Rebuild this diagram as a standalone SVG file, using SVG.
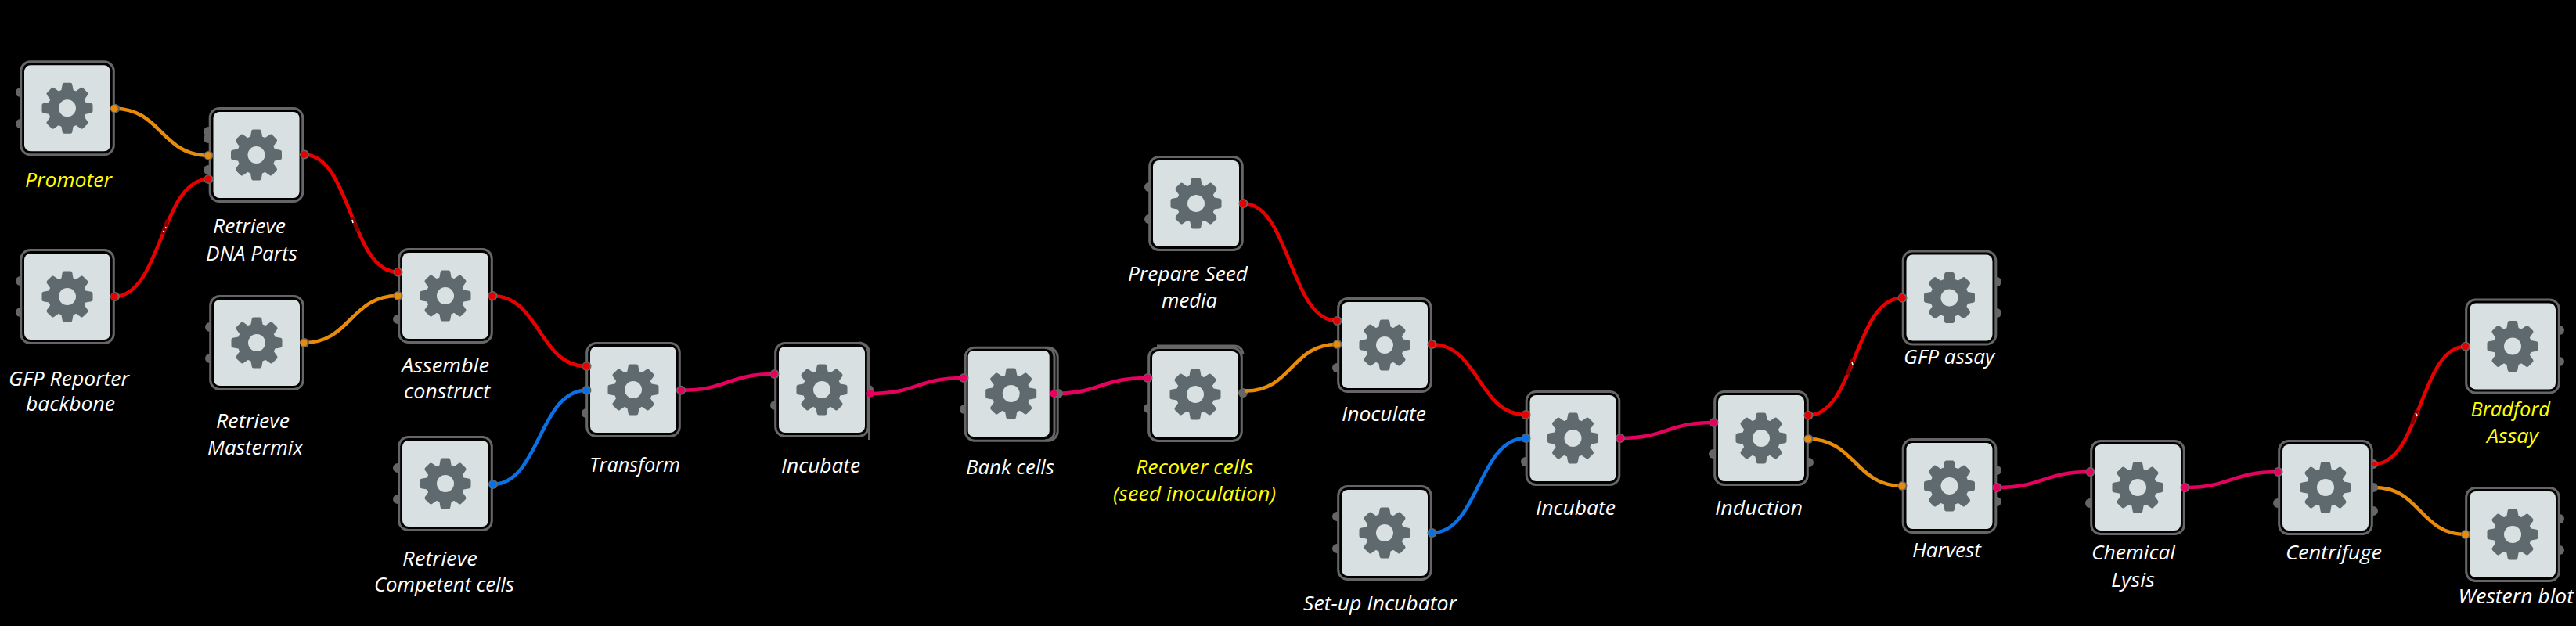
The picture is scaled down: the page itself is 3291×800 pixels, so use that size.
<svg xmlns="http://www.w3.org/2000/svg" width="3291" height="800" viewBox="0 0 3291 800">
<style>
.o{fill:#000;stroke:#666;stroke-width:3}
.i{fill:#d8e0e2}
.g{fill:#5f6a6e}
.h{fill:#d8e0e2}
.p{fill:#666}
.x{fill:none;stroke:#666;stroke-width:3}
.c{fill:none;stroke-width:4.6;stroke-linecap:butt}
.t{font-family:"Open Sans","Noto Sans","Liberation Sans",sans-serif;font-style:italic;font-size:25.5px;fill:#fff}
.y{fill:#ff0}
.cO{stroke:#e88a0a}.cR{stroke:#e60000}.cP{stroke:#e6005f}.cB{stroke:#0a70e6}
.dO{fill:#e88a0a}.dR{fill:#e60000}.dP{fill:#e6005f}.dB{fill:#0a70e6}
.k{stroke:#8a0000;stroke-width:4.6;fill:none}
.w{stroke:#fff;stroke-width:1.5;fill:none}
</style>
<defs>
<path id="tooth" class="g" d="M-8-21L-6.3-30.5Q-6-32.5-4-32.5H4Q6-32.5 6.3-30.5L8-21Z"/>
<g id="gear">
<circle class="g" r="24.5"/>
<use href="#tooth"/><use href="#tooth" transform="rotate(45)"/><use href="#tooth" transform="rotate(90)"/><use href="#tooth" transform="rotate(135)"/><use href="#tooth" transform="rotate(180)"/><use href="#tooth" transform="rotate(225)"/><use href="#tooth" transform="rotate(270)"/><use href="#tooth" transform="rotate(315)"/>
<circle class="h" r="11"/>
</g>
<g id="box">
<rect class="o" x="-59.3" y="-59.5" width="118.6" height="119" rx="12"/>
<rect class="i" x="-55" y="-55" width="110" height="110" rx="8"/>
<use href="#gear"/>
</g>
<circle id="nub" class="p" r="6"/>
<circle id="dot" r="4.6"/>
</defs>
<rect width="3291" height="800" fill="#000"/>
<g id="connectors">
<path class="c cO" d="M146 138.7C206 138.7 206 198.7 266 198.7"/>
<path class="c cR" d="M146 379C206 379 206 229 266 229"/>
<path class="c cR" d="M388.5 197.5C448 197.5 448 347.7 508 347.7"/>
<path class="c cO" d="M388 438C448 438 448 378 508 378"/>
<path class="c cR" d="M629 378C689 378 689 468 749 468"/>
<path class="c cB" d="M629.5 619C689 619 689 498.7 749 498.7"/>
<path class="c cP" d="M870 498.7C930 498.7 930 478 989 478"/>
<path class="c cP" d="M1112 503C1172 503 1172 483 1231 483"/>
<path class="c cP" d="M1346 503C1406 503 1406 483 1466 483"/>
<path class="c cR" d="M1588 260C1648 260 1648 410 1708 410"/>
<path class="c cO" d="M1592 499.5C1650 499.5 1650 440 1708 440"/>
<path class="c cR" d="M1829 440C1889 440 1889 530 1949 530"/>
<path class="c cB" d="M1829 681C1889 681 1889 560 1949 560"/>
<path class="c cP" d="M2070 560C2130 560 2130 540 2189 540"/>
<path class="c cR" d="M2310 530.7C2370 530.7 2370 380.7 2430 380.7"/>
<path class="c cO" d="M2310 561C2370 561 2370 621 2430 621"/>
<path class="c cP" d="M2551 623C2610 623 2610 603 2670 603"/>
<path class="c cP" d="M2791 623C2850 623 2850 603 2910 603"/>
<path class="c cR" d="M3033 593C3092 593 3092 442.7 3150 442.7"/>
<path class="c cO" d="M3034 623C3092 623 3092 683 3150 683"/>
<path class="k" d="M214 281L207.5 299"/><path class="w" d="M208 296L210 295M211 292L212 290"/>
<path class="k" d="M450 277L457 296"/><path class="w" d="M450 281L451 285"/>
<path class="k" d="M2367 459L2360 479"/><path class="w" d="M2366 463L2367 466"/>
<path class="k" d="M3088 524L3081 542"/><path class="w" d="M3086 528L3088 531"/>
</g>
<g id="n-promoter"><use href="#nub" x="26" y="118"/><use href="#nub" x="26" y="158"/><use href="#box" x="86" y="138.3"/><use href="#nub" x="147" y="138.7"/><use href="#dot" class="dO" x="146" y="138.7"/>
<text class="t y" x="32" y="239" textLength="111" lengthAdjust="spacingAndGlyphs">Promoter</text></g>
<g id="n-gfp-backbone"><use href="#nub" x="26" y="359"/><use href="#nub" x="26" y="399"/><use href="#box" x="86" y="379"/><use href="#nub" x="147" y="379"/><use href="#dot" class="dR" x="146" y="379"/>
<text class="t" x="11" y="493" textLength="154" lengthAdjust="spacingAndGlyphs">GFP Reporter</text><text class="t" x="33" y="525" textLength="114" lengthAdjust="spacingAndGlyphs">backbone</text></g>
<g id="n-retrieve-dna"><use href="#nub" x="266" y="168"/><use href="#nub" x="266" y="177"/><use href="#nub" x="266" y="217"/><use href="#box" x="327.5" y="198"/><use href="#nub" x="266.5" y="198.7"/><use href="#dot" class="dO" x="266" y="198.7"/><use href="#nub" x="266.5" y="229"/><use href="#dot" class="dR" x="266" y="229"/><use href="#nub" x="389" y="197.5"/><use href="#dot" class="dR" x="388.5" y="197.5"/>
<text class="t" x="272" y="298" textLength="93" lengthAdjust="spacingAndGlyphs">Retrieve</text><text class="t" x="263" y="333" textLength="117" lengthAdjust="spacingAndGlyphs">DNA Parts</text></g>
<g id="n-mastermix"><use href="#nub" x="268" y="418"/><use href="#nub" x="268" y="458"/><use href="#box" x="328" y="438"/><use href="#nub" x="389" y="438"/><use href="#dot" class="dO" x="388" y="438"/>
<text class="t" x="276" y="547" textLength="94" lengthAdjust="spacingAndGlyphs">Retrieve</text><text class="t" x="265" y="581" textLength="122" lengthAdjust="spacingAndGlyphs">Mastermix</text></g>
<g id="n-assemble"><use href="#nub" x="508" y="408"/><use href="#box" x="569" y="378"/><use href="#nub" x="508.5" y="347.7"/><use href="#dot" class="dR" x="508" y="347.7"/><use href="#nub" x="508.5" y="378"/><use href="#dot" class="dO" x="508" y="378"/><use href="#nub" x="629.5" y="378"/><use href="#dot" class="dR" x="629" y="378"/>
<text class="t" x="513" y="476" textLength="112" lengthAdjust="spacingAndGlyphs">Assemble</text><text class="t" x="516" y="509" textLength="110" lengthAdjust="spacingAndGlyphs">construct</text></g>
<g id="n-competent"><use href="#nub" x="508" y="598"/><use href="#nub" x="508" y="638"/><use href="#box" x="569" y="618"/><use href="#nub" x="630" y="619"/><use href="#dot" class="dB" x="629.5" y="619"/>
<text class="t" x="514" y="723" textLength="96" lengthAdjust="spacingAndGlyphs">Retrieve</text><text class="t" x="478" y="756" textLength="179" lengthAdjust="spacingAndGlyphs">Competent cells</text></g>
<g id="n-transform"><use href="#nub" x="749" y="528"/><use href="#box" x="809" y="498"/><use href="#nub" x="749.5" y="468"/><use href="#dot" class="dR" x="749" y="468"/><use href="#nub" x="749.5" y="498.7"/><use href="#dot" class="dB" x="749" y="498.7"/><use href="#nub" x="870" y="498.7"/><use href="#dot" class="dP" x="870" y="498.7"/>
<text class="t" x="753" y="603" textLength="116" lengthAdjust="spacingAndGlyphs">Transform</text></g>
<g id="n-incubate-1"><use href="#nub" x="990" y="518"/><use href="#nub" x="1110" y="498"/><use href="#box" x="1050" y="498"/><path class="x" d="M1098 438Q1110 439 1110.5 452V562"/><use href="#nub" x="989.5" y="478"/><use href="#dot" class="dP" x="989" y="478"/><use href="#dot" class="dP" x="1112" y="503"/>
<text class="t" x="998" y="604" textLength="101" lengthAdjust="spacingAndGlyphs">Incubate</text></g>
<g id="n-bank"><use href="#nub" x="1232" y="523"/><rect class="o" x="1233.2" y="444.2" width="118" height="119" rx="12"/><rect class="i" x="1236.7" y="448" width="104" height="110" rx="7"/><use href="#gear" x="1291.7" y="503"/><path class="x" d="M1335 444.2Q1346.5 445 1347 456V552Q1346.5 562 1335 563"/><use href="#nub" x="1352" y="503"/><use href="#nub" x="1231.5" y="483"/><use href="#dot" class="dP" x="1231" y="483"/><use href="#dot" class="dP" x="1346" y="503"/>
<text class="t" x="1234" y="606" textLength="113" lengthAdjust="spacingAndGlyphs">Bank cells</text></g>
<g id="n-prepare"><use href="#nub" x="1468" y="239"/><use href="#nub" x="1468" y="280"/><use href="#box" x="1528" y="260"/><use href="#nub" x="1588.5" y="260"/><use href="#dot" class="dR" x="1588" y="260"/>
<text class="t" x="1441" y="359" textLength="153" lengthAdjust="spacingAndGlyphs">Prepare Seed</text><text class="t" x="1484" y="393" textLength="71" lengthAdjust="spacingAndGlyphs">media</text></g>
<g id="n-recover"><use href="#nub" x="1467" y="522"/><use href="#box" x="1527" y="504"/><path class="x" d="M1478 442H1576Q1587 442 1588 453"/><use href="#nub" x="1588" y="502"/><path class="c cO" d="M1594 499.5H1590"/><use href="#nub" x="1466.5" y="483"/><use href="#dot" class="dP" x="1466" y="483"/>
<text class="t y" x="1451" y="606" textLength="150" lengthAdjust="spacingAndGlyphs">Recover cells</text><text class="t y" x="1422" y="640" textLength="208" lengthAdjust="spacingAndGlyphs">(seed inoculation)</text></g>
<g id="n-inoculate"><use href="#nub" x="1708" y="470"/><use href="#box" x="1769" y="441"/><use href="#nub" x="1708.5" y="410"/><use href="#dot" class="dR" x="1708" y="410"/><use href="#nub" x="1708.5" y="440"/><use href="#dot" class="dO" x="1708" y="440"/><use href="#nub" x="1829.5" y="440"/><use href="#dot" class="dR" x="1829" y="440"/>
<text class="t" x="1714" y="538" textLength="108" lengthAdjust="spacingAndGlyphs">Inoculate</text></g>
<g id="n-setup"><use href="#nub" x="1708" y="660"/><use href="#nub" x="1708" y="701"/><use href="#box" x="1769" y="681"/><use href="#nub" x="1829.5" y="681"/><use href="#dot" class="dB" x="1829" y="681"/>
<text class="t" x="1665" y="780" textLength="196" lengthAdjust="spacingAndGlyphs">Set-up Incubator</text></g>
<g id="n-incubate-2"><use href="#nub" x="1949" y="590"/><use href="#box" x="2009.5" y="560"/><use href="#nub" x="1949.5" y="530"/><use href="#dot" class="dR" x="1949" y="530"/><use href="#nub" x="1949.5" y="560"/><use href="#dot" class="dB" x="1949" y="560"/><use href="#nub" x="2070" y="560"/><use href="#dot" class="dP" x="2070" y="560"/>
<text class="t" x="1962" y="658" textLength="102" lengthAdjust="spacingAndGlyphs">Incubate</text></g>
<g id="n-induction"><use href="#nub" x="2189" y="580"/><use href="#nub" x="2311" y="591"/><use href="#box" x="2250" y="560"/><use href="#nub" x="2189.5" y="540"/><use href="#dot" class="dP" x="2189" y="540"/><use href="#nub" x="2310.5" y="530.7"/><use href="#dot" class="dR" x="2310" y="530.7"/><use href="#nub" x="2310.5" y="561"/><use href="#dot" class="dO" x="2310" y="561"/>
<text class="t" x="2191" y="658" textLength="112" lengthAdjust="spacingAndGlyphs">Induction</text></g>
<g id="n-gfp-assay"><use href="#nub" x="2551" y="360"/><use href="#nub" x="2551" y="400"/><use href="#box" x="2490.5" y="380.5"/><use href="#nub" x="2430.5" y="380.7"/><use href="#dot" class="dR" x="2430" y="380.7"/>
<text class="t" x="2432" y="465" textLength="116" lengthAdjust="spacingAndGlyphs">GFP assay</text></g>
<g id="n-harvest"><use href="#nub" x="2551" y="601"/><use href="#nub" x="2551" y="641"/><use href="#box" x="2490.5" y="621"/><use href="#nub" x="2430.5" y="621"/><use href="#dot" class="dO" x="2430" y="621"/><use href="#nub" x="2551.5" y="623"/><use href="#dot" class="dP" x="2551" y="623"/>
<text class="t" x="2443" y="712" textLength="88" lengthAdjust="spacingAndGlyphs">Harvest</text></g>
<g id="n-lysis"><use href="#nub" x="2670" y="643"/><use href="#box" x="2731" y="623"/><use href="#nub" x="2670.5" y="603"/><use href="#dot" class="dP" x="2670" y="603"/><use href="#nub" x="2791.5" y="623"/><use href="#dot" class="dP" x="2791" y="623"/>
<text class="t" x="2672" y="715" textLength="107" lengthAdjust="spacingAndGlyphs">Chemical</text><text class="t" x="2697" y="750" textLength="56" lengthAdjust="spacingAndGlyphs">Lysis</text></g>
<g id="n-centrifuge"><use href="#nub" x="2910" y="643"/><use href="#nub" x="3032" y="593"/><use href="#nub" x="3032" y="623"/><use href="#nub" x="3032" y="653"/><use href="#box" x="2971" y="623"/><use href="#nub" x="2910.5" y="603"/><use href="#dot" class="dP" x="2910" y="603"/><circle class="dR" cx="3034" cy="593" r="3"/>
<text class="t" x="2920" y="715" textLength="123" lengthAdjust="spacingAndGlyphs">Centrifuge</text></g>
<g id="n-bradford"><use href="#nub" x="3270" y="422"/><use href="#nub" x="3270" y="462"/><use href="#box" x="3210" y="442.5"/><use href="#nub" x="3150" y="442.7"/><use href="#dot" class="dR" x="3149.6" y="442.7"/>
<text class="t y" x="3156.5" y="532" textLength="101.5" lengthAdjust="spacingAndGlyphs">Bradford</text><text class="t y" x="3177" y="566" textLength="66" lengthAdjust="spacingAndGlyphs">Assay</text></g>
<g id="n-western"><use href="#nub" x="3270" y="663"/><use href="#nub" x="3270" y="703"/><use href="#box" x="3210" y="683"/><use href="#nub" x="3150" y="683"/><use href="#dot" class="dO" x="3149.6" y="683"/>
<text class="t" x="3140.6" y="771" textLength="147.4" lengthAdjust="spacingAndGlyphs">Western blot</text></g>
</svg>
